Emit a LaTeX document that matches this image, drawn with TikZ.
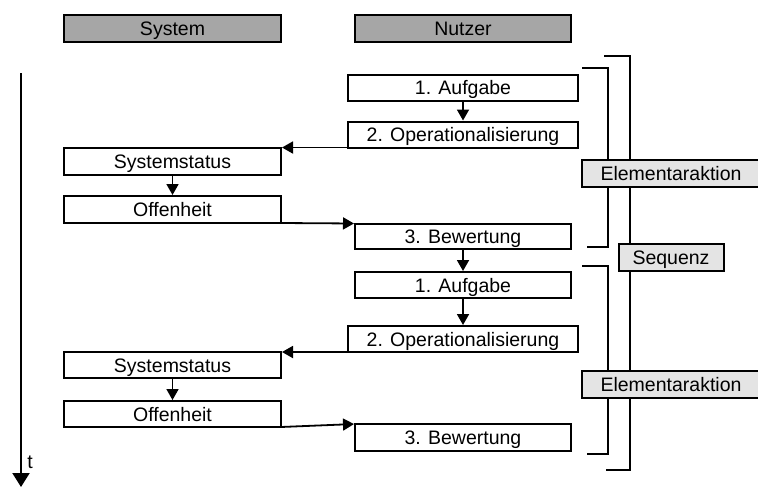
\documentclass[tikz,border=0pt]{standalone}
\usepackage{fontspec}
\setmainfont{Liberation Sans}
\usetikzlibrary{arrows.meta}
\definecolor{hdrgray}{HTML}{A6A6A6}
\definecolor{lblgray}{HTML}{E4E4E4}
\begin{document}
\begin{tikzpicture}[x=1pt,y=-1pt,
  every node/.style={font=\fontsize{19.5}{22}\selectfont, inner sep=0pt},
  box/.style={draw, line width=2pt, outer sep=0pt, text height=18pt, text depth=4pt},
  boxS/.style={box, fill=white, minimum width=217pt, minimum height=26pt},
  boxN/.style={box, fill=white, minimum width=216pt, minimum height=26pt},
  boxW/.style={box, fill=white, minimum width=230pt, minimum height=26pt},
  hdr/.style={box, fill=hdrgray, minimum width=217pt, minimum height=27pt},
  lbl/.style={box, fill=lblgray, minimum height=27pt},
  flow/.style={line width=1.8pt, -{Triangle[length=11pt,width=12pt]}, shorten >=1pt},
  brk/.style={line width=2pt}]
\path[use as bounding box] (0,0) rectangle (758,488);
% brackets
\coordinate (sq1) at (604,56); \coordinate (sq2) at (630,56);
\coordinate (sq3) at (630,470); \coordinate (sq4) at (606,470);
\draw[brk] (sq1) -- (sq2) -- (sq3) -- (sq4);
\coordinate (ea1) at (582,68); \coordinate (ea2) at (608,68);
\coordinate (ea3) at (608,247); \coordinate (ea4) at (587,247);
\draw[brk] (ea1) -- (ea2) -- (ea3) -- (ea4);
\coordinate (eb1) at (582,266); \coordinate (eb2) at (608,266);
\coordinate (eb3) at (608,454); \coordinate (eb4) at (587,454);
\draw[brk] (eb1) -- (eb2) -- (eb3) -- (eb4);
% labels
\node[lbl, minimum width=178pt] (e1) at (671,173.5) {Elementaraktion};
\node[lbl, minimum width=105pt] (sq) at (671,257.5) {Sequenz};
\node[lbl, minimum width=178pt] (e2) at (671,384) {Elementaraktion};
% headers
\node[hdr] (hs) at (172.5,28) {System};
\node[hdr, minimum width=216pt] (hn) at (463,28) {Nutzer};
% time axis
\coordinate (t0) at (21,73);
\coordinate (t1) at (21,487);
\draw[line width=2pt, -{Triangle[length=14pt,width=17pt]}] (t0) -- (t1);
\node (tl) at (30,462) {t};
% first sequence
\node[boxW] (a1) at (463,87.5) {1. Aufgabe};
\node[boxW] (o1) at (463,134.5) {2. Operationalisierung};
\node[boxS, minimum height=27pt] (s1) at (172.5,161) {Systemstatus};
\node[boxS, minimum height=27pt] (f1) at (172.5,209.5) {Offenheit};
\node[boxN, minimum height=25pt] (b1) at (463,236) {3. Bewertung};
% second sequence
\node[boxN] (a2) at (463,285) {1. Aufgabe};
\node[boxW] (o2) at (463,339) {2. Operationalisierung};
\node[boxS] (s2) at (172.5,365) {Systemstatus};
\node[boxS] (f2) at (172.5,414) {Offenheit};
\node[boxN, minimum height=27pt] (b2) at (463,437.5) {3. Bewertung};
% connectors
\draw[flow] (a1.south) -- (o1.north);
\draw[flow] (o1.south west) -- (s1.north east);
\draw[flow] (s1.south) -- (f1.north);
\draw[flow] (f1.south east) -- (b1.north west);
\draw[flow] (b1.south) -- (a2.north);
\draw[flow] (a2.south) -- (o2.north);
\draw[flow] (o2.south west) -- (s2.north east);
\draw[flow] (s2.south) -- (f2.north);
\draw[flow] (f2.south east) -- (b2.north west);
\end{tikzpicture}
\end{document}
